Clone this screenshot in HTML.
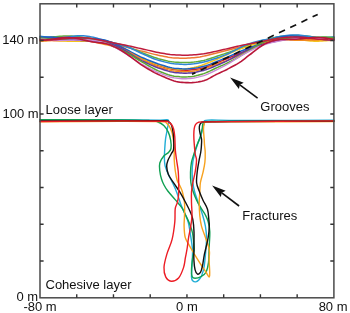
<!DOCTYPE html><html><head><meta charset="utf-8"><style>html,body{margin:0;padding:0;background:#fff;}body{width:350px;height:313px;overflow:hidden;position:relative;}svg{position:absolute;left:0;top:0;will-change:transform;}text{font-family:"Liberation Sans",sans-serif;font-size:13px;fill:#111;}</style></head><body>
<svg width="350" height="313" viewBox="0 0 350 313">
<g fill="none" stroke-linejoin="round" stroke-linecap="round">
<path d="M40.00 40.07 L41.97 39.86 L43.95 39.61 L45.92 39.35 L47.89 39.07 L49.87 38.80 L51.84 38.55 L53.81 38.33 L55.79 38.15 L57.76 38.00 L59.73 37.89 L61.70 37.83 L63.68 37.83 L65.65 37.89 L67.62 38.01 L69.60 38.19 L71.57 38.43 L73.54 38.70 L75.52 38.99 L77.49 39.32 L79.46 39.64 L81.44 39.96 L83.41 40.24 L85.38 40.47 L87.36 40.68 L89.33 40.88 L91.30 41.07 L93.28 41.22 L95.25 41.34 L97.22 41.44 L99.19 41.55 L101.17 41.67 L103.14 41.83 L105.11 42.05 L107.09 42.37 L109.06 42.82 L111.03 43.37 L113.01 44.00 L114.98 44.70 L116.95 45.47 L118.93 46.31 L120.90 47.23 L122.87 48.22 L124.85 49.26 L126.82 50.37 L128.79 51.55 L130.77 52.77 L132.74 53.96 L134.71 55.11 L136.68 56.20 L138.66 57.26 L140.63 58.25 L142.60 59.16 L144.58 60.04 L146.55 60.90 L148.52 61.74 L150.50 62.54 L152.47 63.32 L154.44 64.06 L156.42 64.77 L158.39 65.43 L160.36 66.03 L162.34 66.63 L164.31 67.23 L166.28 67.82 L168.26 68.37 L170.23 68.86 L172.20 69.27 L174.17 69.57 L176.15 69.78 L178.12 69.96 L180.09 70.11 L182.07 70.23 L184.04 70.29 L186.01 70.29 L187.99 70.19 L189.96 70.04 L191.93 69.86 L193.91 69.64 L195.88 69.36 L197.85 69.01 L199.83 68.62 L201.80 68.18 L203.77 67.71 L205.74 67.14 L207.72 66.47 L209.69 65.76 L211.66 64.97 L213.64 64.13 L215.61 63.30 L217.58 62.50 L219.56 61.70 L221.53 60.91 L223.50 60.12 L225.48 59.31 L227.45 58.47 L229.42 57.62 L231.40 56.77 L233.37 55.94 L235.34 55.11 L237.32 54.28 L239.29 53.47 L241.26 52.67 L243.23 51.87 L245.21 51.08 L247.18 50.30 L249.15 49.53 L251.13 48.72 L253.10 47.87 L255.07 46.98 L257.05 46.06 L259.02 45.15 L260.99 44.24 L262.97 43.38 L264.94 42.52 L266.91 41.71 L268.89 40.96 L270.86 40.30 L272.83 39.69 L274.81 39.15 L276.78 38.69 L278.75 38.34 L280.72 38.10 L282.70 37.94 L284.67 37.86 L286.64 37.86 L288.62 37.95 L290.59 38.12 L292.56 38.34 L294.54 38.56 L296.51 38.77 L298.48 38.98 L300.46 39.16 L302.43 39.31 L304.40 39.42 L306.38 39.50 L308.35 39.52 L310.32 39.50 L312.30 39.43 L314.27 39.31 L316.24 39.15 L318.21 38.97 L320.19 38.77 L322.16 38.58 L324.13 38.41 L326.11 38.26 L328.08 38.15 L330.05 38.09 L332.03 38.07 L334.00 38.12" stroke="#d8202a" stroke-width="1.50"/>
<path d="M40.00 39.48 L41.97 39.67 L43.95 39.86 L45.92 40.06 L47.89 40.24 L49.87 40.41 L51.84 40.55 L53.81 40.67 L55.79 40.74 L57.76 40.77 L59.73 40.73 L61.70 40.65 L63.68 40.53 L65.65 40.38 L67.62 40.21 L69.60 40.03 L71.57 39.85 L73.54 39.67 L75.52 39.50 L77.49 39.35 L79.46 39.23 L81.44 39.14 L83.41 39.07 L85.38 39.03 L87.36 39.05 L89.33 39.14 L91.30 39.29 L93.28 39.50 L95.25 39.75 L97.22 40.04 L99.19 40.37 L101.17 40.75 L103.14 41.16 L105.11 41.61 L107.09 42.11 L109.06 42.65 L111.03 43.21 L113.01 43.77 L114.98 44.31 L116.95 44.83 L118.93 45.34 L120.90 45.84 L122.87 46.33 L124.85 46.81 L126.82 47.30 L128.79 47.81 L130.77 48.34 L132.74 48.86 L134.71 49.37 L136.68 49.87 L138.66 50.38 L140.63 50.87 L142.60 51.34 L144.58 51.84 L146.55 52.34 L148.52 52.86 L150.50 53.37 L152.47 53.88 L154.44 54.38 L156.42 54.85 L158.39 55.30 L160.36 55.70 L162.34 56.10 L164.31 56.48 L166.28 56.85 L168.26 57.19 L170.23 57.48 L172.20 57.72 L174.17 57.89 L176.15 58.01 L178.12 58.11 L180.09 58.20 L182.07 58.26 L184.04 58.30 L186.01 58.20 L187.99 58.10 L189.96 57.99 L191.93 57.84 L193.91 57.65 L195.88 57.43 L197.85 57.17 L199.83 56.89 L201.80 56.55 L203.77 56.12 L205.74 55.66 L207.72 55.19 L209.69 54.69 L211.66 54.18 L213.64 53.68 L215.61 53.19 L217.58 52.71 L219.56 52.23 L221.53 51.75 L223.50 51.26 L225.48 50.76 L227.45 50.26 L229.42 49.76 L231.40 49.26 L233.37 48.76 L235.34 48.26 L237.32 47.76 L239.29 47.27 L241.26 46.79 L243.23 46.31 L245.21 45.85 L247.18 45.38 L249.15 44.89 L251.13 44.36 L253.10 43.81 L255.07 43.25 L257.05 42.70 L259.02 42.17 L260.99 41.66 L262.97 41.17 L264.94 40.69 L266.91 40.23 L268.89 39.78 L270.86 39.33 L272.83 38.91 L274.81 38.57 L276.78 38.35 L278.75 38.24 L280.72 38.17 L282.70 38.15 L284.67 38.18 L286.64 38.25 L288.62 38.36 L290.59 38.49 L292.56 38.65 L294.54 38.84 L296.51 39.03 L298.48 39.23 L300.46 39.43 L302.43 39.63 L304.40 39.82 L306.38 39.99 L308.35 40.13 L310.32 40.23 L312.30 40.30 L314.27 40.32 L316.24 40.30 L318.21 40.24 L320.19 40.14 L322.16 40.03 L324.13 39.89 L326.11 39.75 L328.08 39.60 L330.05 39.45 L332.03 39.32 L334.00 39.21" stroke="#ef7a32" stroke-width="1.50"/>
<path d="M40.00 38.18 L41.97 38.00 L43.95 37.81 L45.92 37.61 L47.89 37.41 L49.87 37.20 L51.84 37.01 L53.81 36.82 L55.79 36.64 L57.76 36.47 L59.73 36.32 L61.70 36.18 L63.68 36.07 L65.65 36.00 L67.62 35.97 L69.60 35.99 L71.57 36.07 L73.54 36.19 L75.52 36.36 L77.49 36.58 L79.46 36.84 L81.44 37.13 L83.41 37.43 L85.38 37.73 L87.36 38.05 L89.33 38.41 L91.30 38.78 L93.28 39.15 L95.25 39.51 L97.22 39.85 L99.19 40.18 L101.17 40.50 L103.14 40.83 L105.11 41.15 L107.09 41.51 L109.06 41.91 L111.03 42.34 L113.01 42.78 L114.98 43.22 L116.95 43.66 L118.93 44.14 L120.90 44.65 L122.87 45.20 L124.85 45.79 L126.82 46.44 L128.79 47.18 L130.77 47.98 L132.74 48.80 L134.71 49.63 L136.68 50.45 L138.66 51.29 L140.63 52.11 L142.60 52.89 L144.58 53.68 L146.55 54.47 L148.52 55.25 L150.50 56.01 L152.47 56.74 L154.44 57.43 L156.42 58.08 L158.39 58.68 L160.36 59.22 L162.34 59.73 L164.31 60.23 L166.28 60.70 L168.26 61.14 L170.23 61.52 L172.20 61.83 L174.17 62.06 L176.15 62.21 L178.12 62.34 L180.09 62.46 L182.07 62.55 L184.04 62.59 L186.01 62.59 L187.99 62.51 L189.96 62.39 L191.93 62.24 L193.91 62.07 L195.88 61.83 L197.85 61.54 L199.83 61.20 L201.80 60.83 L203.77 60.42 L205.74 59.89 L207.72 59.28 L209.69 58.67 L211.66 58.02 L213.64 57.36 L215.61 56.69 L217.58 56.05 L219.56 55.41 L221.53 54.78 L223.50 54.14 L225.48 53.49 L227.45 52.80 L229.42 52.09 L231.40 51.38 L233.37 50.66 L235.34 49.92 L237.32 49.17 L239.29 48.42 L241.26 47.68 L243.23 46.95 L245.21 46.25 L247.18 45.58 L249.15 44.94 L251.13 44.30 L253.10 43.63 L255.07 42.96 L257.05 42.30 L259.02 41.66 L260.99 41.07 L262.97 40.53 L264.94 40.02 L266.91 39.54 L268.89 39.06 L270.86 38.59 L272.83 38.09 L274.81 37.57 L276.78 37.10 L278.75 36.72 L280.72 36.47 L282.70 36.26 L284.67 36.08 L286.64 35.93 L288.62 35.79 L290.59 35.69 L292.56 35.61 L294.54 35.57 L296.51 35.56 L298.48 35.59 L300.46 35.66 L302.43 35.77 L304.40 35.91 L306.38 36.09 L308.35 36.29 L310.32 36.51 L312.30 36.74 L314.27 36.97 L316.24 37.19 L318.21 37.42 L320.19 37.63 L322.16 37.83 L324.13 38.02 L326.11 38.19 L328.08 38.34 L330.05 38.46 L332.03 38.55 L334.00 38.62" stroke="#62ad3c" stroke-width="1.50"/>
<path d="M40.00 39.68 L41.97 39.63 L43.95 39.63 L45.92 39.67 L47.89 39.75 L49.87 39.87 L51.84 40.01 L53.81 40.18 L55.79 40.36 L57.76 40.53 L59.73 40.69 L61.70 40.83 L63.68 40.95 L65.65 41.05 L67.62 41.14 L69.60 41.20 L71.57 41.25 L73.54 41.27 L75.52 41.27 L77.49 41.26 L79.46 41.23 L81.44 41.19 L83.41 41.14 L85.38 41.06 L87.36 41.01 L89.33 41.01 L91.30 41.05 L93.28 41.13 L95.25 41.24 L97.22 41.40 L99.19 41.62 L101.17 41.91 L103.14 42.27 L105.11 42.71 L107.09 43.27 L109.06 43.94 L111.03 44.69 L113.01 45.49 L114.98 46.32 L116.95 47.16 L118.93 48.04 L120.90 48.94 L122.87 49.85 L124.85 50.77 L126.82 51.72 L128.79 52.71 L130.77 53.71 L132.74 54.69 L134.71 55.63 L136.68 56.52 L138.66 57.40 L140.63 58.23 L142.60 59.00 L144.58 59.77 L146.55 60.55 L148.52 61.32 L150.50 62.08 L152.47 62.82 L154.44 63.54 L156.42 64.22 L158.39 64.87 L160.36 65.46 L162.34 66.05 L164.31 66.63 L166.28 67.19 L168.26 67.71 L170.23 68.17 L172.20 68.55 L174.17 68.84 L176.15 69.03 L178.12 69.19 L180.09 69.33 L182.07 69.44 L184.04 69.49 L186.01 68.88 L187.99 68.61 L189.96 68.30 L191.93 67.94 L193.91 67.54 L195.88 67.09 L197.85 66.52 L199.83 65.87 L201.80 65.20 L203.77 64.48 L205.74 63.73 L207.72 62.97 L209.69 62.22 L211.66 61.45 L213.64 60.67 L215.61 59.87 L217.58 59.04 L219.56 58.17 L221.53 57.26 L223.50 56.34 L225.48 55.42 L227.45 54.48 L229.42 53.54 L231.40 52.62 L233.37 51.72 L235.34 50.87 L237.32 50.07 L239.29 49.32 L241.26 48.63 L243.23 47.96 L245.21 47.28 L247.18 46.62 L249.15 45.97 L251.13 45.36 L253.10 44.79 L255.07 44.27 L257.05 43.77 L259.02 43.27 L260.99 42.77 L262.97 42.25 L264.94 41.68 L266.91 41.10 L268.89 40.56 L270.86 40.13 L272.83 39.83 L274.81 39.58 L276.78 39.35 L278.75 39.16 L280.72 39.01 L282.70 38.91 L284.67 38.86 L286.64 38.86 L288.62 38.91 L290.59 39.00 L292.56 39.13 L294.54 39.29 L296.51 39.48 L298.48 39.69 L300.46 39.91 L302.43 40.14 L304.40 40.37 L306.38 40.59 L308.35 40.78 L310.32 40.94 L312.30 41.06 L314.27 41.13 L316.24 41.15 L318.21 41.14 L320.19 41.08 L322.16 40.98 L324.13 40.86 L326.11 40.72 L328.08 40.57 L330.05 40.41 L332.03 40.26 L334.00 40.13" stroke="#f5c21b" stroke-width="1.50"/>
<path d="M40.00 36.28 L41.97 36.49 L43.95 36.72 L45.92 36.95 L47.89 37.18 L49.87 37.40 L51.84 37.58 L53.81 37.71 L55.79 37.79 L57.76 37.80 L59.73 37.74 L61.70 37.61 L63.68 37.42 L65.65 37.19 L67.62 36.93 L69.60 36.67 L71.57 36.42 L73.54 36.18 L75.52 35.98 L77.49 35.84 L79.46 35.77 L81.44 35.77 L83.41 35.83 L85.38 35.95 L87.36 36.16 L89.33 36.48 L91.30 36.88 L93.28 37.34 L95.25 37.83 L97.22 38.35 L99.19 38.88 L101.17 39.43 L103.14 39.97 L105.11 40.52 L107.09 41.08 L109.06 41.66 L111.03 42.23 L113.01 42.79 L114.98 43.31 L116.95 43.81 L118.93 44.32 L120.90 44.84 L122.87 45.40 L124.85 46.00 L126.82 46.68 L128.79 47.45 L130.77 48.31 L132.74 49.21 L134.71 50.12 L136.68 51.05 L138.66 52.01 L140.63 52.95 L142.60 53.85 L144.58 54.76 L146.55 55.67 L148.52 56.55 L150.50 57.40 L152.47 58.21 L154.44 58.96 L156.42 59.65 L158.39 60.27 L160.36 60.83 L162.34 61.36 L164.31 61.87 L166.28 62.36 L168.26 62.81 L170.23 63.20 L172.20 63.53 L174.17 63.78 L176.15 63.95 L178.12 64.10 L180.09 64.24 L182.07 64.34 L184.04 64.39 L186.01 64.39 L187.99 64.30 L189.96 64.15 L191.93 63.98 L193.91 63.78 L195.88 63.52 L197.85 63.20 L199.83 62.85 L201.80 62.47 L203.77 62.06 L205.74 61.53 L207.72 60.94 L209.69 60.35 L211.66 59.73 L213.64 59.08 L215.61 58.43 L217.58 57.78 L219.56 57.11 L221.53 56.41 L223.50 55.67 L225.48 54.88 L227.45 54.03 L229.42 53.12 L231.40 52.16 L233.37 51.18 L235.34 50.17 L237.32 49.14 L239.29 48.11 L241.26 47.12 L243.23 46.17 L245.21 45.29 L247.18 44.48 L249.15 43.78 L251.13 43.12 L253.10 42.49 L255.07 41.90 L257.05 41.36 L259.02 40.87 L260.99 40.45 L262.97 40.09 L264.94 39.74 L266.91 39.40 L268.89 39.04 L270.86 38.64 L272.83 38.15 L274.81 37.62 L276.78 37.10 L278.75 36.64 L280.72 36.29 L282.70 35.98 L284.67 35.70 L286.64 35.44 L288.62 35.23 L290.59 35.06 L292.56 34.96 L294.54 34.92 L296.51 34.95 L298.48 35.05 L300.46 35.21 L302.43 35.42 L304.40 35.69 L306.38 35.98 L308.35 36.29 L310.32 36.59 L312.30 36.87 L314.27 37.11 L316.24 37.30 L318.21 37.44 L320.19 37.52 L322.16 37.54 L324.13 37.50 L326.11 37.42 L328.08 37.29 L330.05 37.13 L332.03 36.95 L334.00 36.76" stroke="#2e86d6" stroke-width="1.50"/>
<path d="M40.00 37.01 L41.97 36.93 L43.95 36.89 L45.92 36.89 L47.89 36.93 L49.87 37.01 L51.84 37.12 L53.81 37.26 L55.79 37.43 L57.76 37.59 L59.73 37.75 L61.70 37.90 L63.68 38.04 L65.65 38.17 L67.62 38.28 L69.60 38.39 L71.57 38.48 L73.54 38.55 L75.52 38.59 L77.49 38.63 L79.46 38.65 L81.44 38.65 L83.41 38.63 L85.38 38.58 L87.36 38.55 L89.33 38.56 L91.30 38.61 L93.28 38.69 L95.25 38.79 L97.22 38.93 L99.19 39.13 L101.17 39.40 L103.14 39.74 L105.11 40.17 L107.09 40.71 L109.06 41.38 L111.03 42.14 L113.01 42.96 L114.98 43.82 L116.95 44.70 L118.93 45.63 L120.90 46.59 L122.87 47.58 L124.85 48.59 L126.82 49.63 L128.79 50.73 L130.77 51.84 L132.74 52.92 L134.71 53.96 L136.68 54.95 L138.66 55.92 L140.63 56.84 L142.60 57.69 L144.58 58.53 L146.55 59.37 L148.52 60.19 L150.50 61.01 L152.47 61.80 L154.44 62.56 L156.42 63.28 L158.39 63.96 L160.36 64.59 L162.34 65.21 L164.31 65.82 L166.28 66.42 L168.26 66.98 L170.23 67.47 L172.20 67.88 L174.17 68.18 L176.15 68.38 L178.12 68.56 L180.09 68.72 L182.07 68.83 L184.04 68.89 L186.01 68.89 L187.99 68.79 L189.96 68.64 L191.93 68.46 L193.91 68.25 L195.88 67.96 L197.85 67.62 L199.83 67.22 L201.80 66.79 L203.77 66.32 L205.74 65.75 L207.72 65.09 L209.69 64.39 L211.66 63.60 L213.64 62.77 L215.61 61.95 L217.58 61.16 L219.56 60.37 L221.53 59.57 L223.50 58.77 L225.48 57.94 L227.45 57.09 L229.42 56.20 L231.40 55.32 L233.37 54.45 L235.34 53.58 L237.32 52.72 L239.29 51.88 L241.26 51.05 L243.23 50.24 L245.21 49.46 L247.18 48.71 L249.15 47.97 L251.13 47.24 L253.10 46.47 L255.07 45.69 L257.05 44.89 L259.02 44.10 L260.99 43.33 L262.97 42.59 L264.94 41.84 L266.91 41.11 L268.89 40.41 L270.86 39.77 L272.83 39.14 L274.81 38.53 L276.78 37.97 L278.75 37.48 L280.72 37.07 L282.70 36.71 L284.67 36.41 L286.64 36.20 L288.62 36.08 L290.59 36.06 L292.56 36.11 L294.54 36.21 L296.51 36.34 L298.48 36.52 L300.46 36.72 L302.43 36.95 L304.40 37.20 L306.38 37.46 L308.35 37.71 L310.32 37.94 L312.30 38.14 L314.27 38.31 L316.24 38.42 L318.21 38.50 L320.19 38.54 L322.16 38.53 L324.13 38.49 L326.11 38.41 L328.08 38.30 L330.05 38.17 L332.03 38.03 L334.00 37.88" stroke="#1a62c4" stroke-width="1.50"/>
<path d="M40.00 41.30 L41.97 41.22 L43.95 41.10 L45.92 40.95 L47.89 40.76 L49.87 40.55 L51.84 40.32 L53.81 40.08 L55.79 39.84 L57.76 39.58 L59.73 39.33 L61.70 39.09 L63.68 38.88 L65.65 38.71 L67.62 38.59 L69.60 38.53 L71.57 38.54 L73.54 38.61 L75.52 38.73 L77.49 38.93 L79.46 39.19 L81.44 39.49 L83.41 39.83 L85.38 40.17 L87.36 40.56 L89.33 40.99 L91.30 41.45 L93.28 41.91 L95.25 42.35 L97.22 42.77 L99.19 43.19 L101.17 43.59 L103.14 43.99 L105.11 44.40 L107.09 44.85 L109.06 45.34 L111.03 45.88 L113.01 46.43 L114.98 46.98 L116.95 47.55 L118.93 48.16 L120.90 48.82 L122.87 49.53 L124.85 50.30 L126.82 51.17 L128.79 52.14 L130.77 53.19 L132.74 54.27 L134.71 55.36 L136.68 56.44 L138.66 57.54 L140.63 58.61 L142.60 59.62 L144.58 60.64 L146.55 61.65 L148.52 62.64 L150.50 63.59 L152.47 64.50 L154.44 65.36 L156.42 66.16 L158.39 66.89 L160.36 67.54 L162.34 68.16 L164.31 68.77 L166.28 69.34 L168.26 69.87 L170.23 70.34 L172.20 70.72 L174.17 71.01 L176.15 71.20 L178.12 71.37 L180.09 71.52 L182.07 71.63 L184.04 71.69 L186.01 71.69 L187.99 71.59 L189.96 71.42 L191.93 71.23 L193.91 70.99 L195.88 70.68 L197.85 70.30 L199.83 69.87 L201.80 69.40 L203.77 68.91 L205.74 68.31 L207.72 67.64 L209.69 66.95 L211.66 66.19 L213.64 65.41 L215.61 64.66 L217.58 63.95 L219.56 63.26 L221.53 62.57 L223.50 61.88 L225.48 61.15 L227.45 60.39 L229.42 59.57 L231.40 58.73 L233.37 57.87 L235.34 56.97 L237.32 56.04 L239.29 55.07 L241.26 54.08 L243.23 53.07 L245.21 52.05 L247.18 51.02 L249.15 50.01 L251.13 48.98 L253.10 47.93 L255.07 46.89 L257.05 45.87 L259.02 44.90 L260.99 44.00 L262.97 43.20 L264.94 42.47 L266.91 41.82 L268.89 41.28 L270.86 40.85 L272.83 40.49 L274.81 40.19 L276.78 39.96 L278.75 39.82 L280.72 39.76 L282.70 39.73 L284.67 39.73 L286.64 39.77 L288.62 39.85 L290.59 39.98 L292.56 40.10 L294.54 40.20 L296.51 40.27 L298.48 40.31 L300.46 40.33 L302.43 40.32 L304.40 40.29 L306.38 40.23 L308.35 40.15 L310.32 40.05 L312.30 39.92 L314.27 39.78 L316.24 39.62 L318.21 39.47 L320.19 39.32 L322.16 39.19 L324.13 39.08 L326.11 39.00 L328.08 38.95 L330.05 38.94 L332.03 38.96 L334.00 39.03" stroke="#f28a1e" stroke-width="1.50"/>
<path d="M40.00 38.72 L41.97 38.59 L43.95 38.49 L45.92 38.43 L47.89 38.40 L49.87 38.41 L51.84 38.46 L53.81 38.54 L55.79 38.65 L57.76 38.77 L59.73 38.90 L61.70 39.04 L63.68 39.18 L65.65 39.32 L67.62 39.48 L69.60 39.64 L71.57 39.80 L73.54 39.95 L75.52 40.09 L77.49 40.23 L79.46 40.36 L81.44 40.47 L83.41 40.56 L85.38 40.60 L87.36 40.66 L89.33 40.74 L91.30 40.84 L93.28 40.94 L95.25 41.05 L97.22 41.18 L99.19 41.35 L101.17 41.56 L103.14 41.83 L105.11 42.18 L107.09 42.65 L109.06 43.25 L111.03 43.94 L113.01 44.72 L114.98 45.54 L116.95 46.42 L118.93 47.35 L120.90 48.35 L122.87 49.41 L124.85 50.51 L126.82 51.67 L128.79 52.92 L130.77 54.19 L132.74 55.46 L134.71 56.68 L136.68 57.85 L138.66 58.99 L140.63 60.07 L142.60 61.06 L144.58 62.04 L146.55 62.99 L148.52 63.92 L150.50 64.82 L152.47 65.68 L154.44 66.50 L156.42 67.27 L158.39 67.98 L160.36 68.64 L162.34 69.28 L164.31 69.92 L166.28 70.54 L168.26 71.13 L170.23 71.65 L172.20 72.08 L174.17 72.41 L176.15 72.63 L178.12 72.83 L180.09 73.00 L182.07 73.12 L184.04 73.19 L186.01 73.18 L187.99 73.08 L189.96 72.90 L191.93 72.71 L193.91 72.47 L195.88 72.15 L197.85 71.77 L199.83 71.35 L201.80 70.89 L203.77 70.40 L205.74 69.81 L207.72 69.13 L209.69 68.41 L211.66 67.61 L213.64 66.76 L215.61 65.93 L217.58 65.10 L219.56 64.28 L221.53 63.43 L223.50 62.56 L225.48 61.64 L227.45 60.66 L229.42 59.63 L231.40 58.58 L233.37 57.51 L235.34 56.43 L237.32 55.34 L239.29 54.26 L241.26 53.20 L243.23 52.17 L245.21 51.18 L247.18 50.24 L249.15 49.36 L251.13 48.52 L253.10 47.70 L255.07 46.90 L257.05 46.15 L259.02 45.45 L260.99 44.81 L262.97 44.25 L264.94 43.71 L266.91 43.20 L268.89 42.74 L270.86 42.33 L272.83 41.91 L274.81 41.47 L276.78 41.05 L278.75 40.64 L280.72 40.25 L282.70 39.86 L284.67 39.47 L286.64 39.10 L288.62 38.77 L290.59 38.51 L292.56 38.27 L294.54 38.05 L296.51 37.86 L298.48 37.70 L300.46 37.59 L302.43 37.53 L304.40 37.52 L306.38 37.57 L308.35 37.66 L310.32 37.80 L312.30 37.97 L314.27 38.17 L316.24 38.40 L318.21 38.64 L320.19 38.90 L322.16 39.17 L324.13 39.44 L326.11 39.70 L328.08 39.94 L330.05 40.17 L332.03 40.36 L334.00 40.52" stroke="#5e3a9e" stroke-width="1.50"/>
<path d="M40.00 38.08 L41.97 38.28 L43.95 38.49 L45.92 38.69 L47.89 38.88 L49.87 39.06 L51.84 39.20 L53.81 39.30 L55.79 39.36 L57.76 39.36 L59.73 39.30 L61.70 39.19 L63.68 39.03 L65.65 38.84 L67.62 38.63 L69.60 38.42 L71.57 38.21 L73.54 38.01 L75.52 37.83 L77.49 37.70 L79.46 37.63 L81.44 37.61 L83.41 37.64 L85.38 37.71 L87.36 37.88 L89.33 38.15 L91.30 38.51 L93.28 38.94 L95.25 39.42 L97.22 39.95 L99.19 40.54 L101.17 41.17 L103.14 41.86 L105.11 42.60 L107.09 43.41 L109.06 44.30 L111.03 45.24 L113.01 46.19 L114.98 47.12 L116.95 48.03 L118.93 48.95 L120.90 49.89 L122.87 50.85 L124.85 51.83 L126.82 52.87 L128.79 54.01 L130.77 55.20 L132.74 56.41 L134.71 57.60 L136.68 58.79 L138.66 60.00 L140.63 61.17 L142.60 62.29 L144.58 63.44 L146.55 64.59 L148.52 65.74 L150.50 66.87 L152.47 67.97 L154.44 69.02 L156.42 70.01 L158.39 70.92 L160.36 71.74 L162.34 72.53 L164.31 73.31 L166.28 74.04 L168.26 74.72 L170.23 75.30 L172.20 75.79 L174.17 76.15 L176.15 76.39 L178.12 76.60 L180.09 76.78 L182.07 76.91 L184.04 76.99 L186.01 76.98 L187.99 76.86 L189.96 76.67 L191.93 76.44 L193.91 76.15 L195.88 75.77 L197.85 75.32 L199.83 74.79 L201.80 74.22 L203.77 73.61 L205.74 72.88 L207.72 72.04 L209.69 71.17 L211.66 70.22 L213.64 69.24 L215.61 68.30 L217.58 67.40 L219.56 66.54 L221.53 65.68 L223.50 64.82 L225.48 63.93 L227.45 62.99 L229.42 62.00 L231.40 60.98 L233.37 59.95 L235.34 58.87 L237.32 57.76 L239.29 56.61 L241.26 55.43 L243.23 54.23 L245.21 53.01 L247.18 51.79 L249.15 50.58 L251.13 49.36 L253.10 48.10 L255.07 46.85 L257.05 45.63 L259.02 44.46 L260.99 43.39 L262.97 42.43 L264.94 41.56 L266.91 40.78 L268.89 40.13 L270.86 39.63 L272.83 39.21 L274.81 38.86 L276.78 38.60 L278.75 38.43 L280.72 38.35 L282.70 38.31 L284.67 38.30 L286.64 38.32 L288.62 38.38 L290.59 38.49 L292.56 38.58 L294.54 38.64 L296.51 38.65 L298.48 38.63 L300.46 38.57 L302.43 38.48 L304.40 38.37 L306.38 38.23 L308.35 38.08 L310.32 37.91 L312.30 37.73 L314.27 37.56 L316.24 37.39 L318.21 37.25 L320.19 37.14 L322.16 37.07 L324.13 37.04 L326.11 37.06 L328.08 37.13 L330.05 37.26 L332.03 37.43 L334.00 37.64" stroke="#5aa832" stroke-width="1.50"/>
<path d="M40.00 39.00 L41.97 39.12 L43.95 39.26 L45.92 39.42 L47.89 39.58 L49.87 39.75 L51.84 39.91 L53.81 40.07 L55.79 40.21 L57.76 40.31 L59.73 40.38 L61.70 40.41 L63.68 40.42 L65.65 40.40 L67.62 40.36 L69.60 40.31 L71.57 40.25 L73.54 40.18 L75.52 40.10 L77.49 40.05 L79.46 40.01 L81.44 39.98 L83.41 39.95 L85.38 39.93 L87.36 39.96 L89.33 40.05 L91.30 40.22 L93.28 40.43 L95.25 40.67 L97.22 40.97 L99.19 41.33 L101.17 41.75 L103.14 42.26 L105.11 42.85 L107.09 43.57 L109.06 44.41 L111.03 45.36 L113.01 46.36 L114.98 47.39 L116.95 48.45 L118.93 49.55 L120.90 50.70 L122.87 51.88 L124.85 53.09 L126.82 54.36 L128.79 55.71 L130.77 57.09 L132.74 58.46 L134.71 59.78 L136.68 61.05 L138.66 62.30 L140.63 63.49 L142.60 64.59 L144.58 65.69 L146.55 66.78 L148.52 67.85 L150.50 68.90 L152.47 69.91 L154.44 70.88 L156.42 71.79 L158.39 72.65 L160.36 73.43 L162.34 74.19 L164.31 74.96 L166.28 75.70 L168.26 76.39 L170.23 77.00 L172.20 77.51 L174.17 77.89 L176.15 78.14 L178.12 78.37 L180.09 78.57 L182.07 78.71 L184.04 78.79 L186.01 78.78 L187.99 78.66 L189.96 78.46 L191.93 78.23 L193.91 77.96 L195.88 77.59 L197.85 77.15 L199.83 76.66 L201.80 76.12 L203.77 75.55 L205.74 74.85 L207.72 74.05 L209.69 73.21 L211.66 72.27 L213.64 71.28 L215.61 70.30 L217.58 69.34 L219.56 68.38 L221.53 67.41 L223.50 66.40 L225.48 65.35 L227.45 64.24 L229.42 63.07 L231.40 61.87 L233.37 60.66 L235.34 59.43 L237.32 58.19 L239.29 56.95 L241.26 55.73 L243.23 54.54 L245.21 53.39 L247.18 52.29 L249.15 51.26 L251.13 50.26 L253.10 49.27 L255.07 48.32 L257.05 47.41 L259.02 46.56 L260.99 45.80 L262.97 45.12 L264.94 44.48 L266.91 43.88 L268.89 43.35 L270.86 42.89 L272.83 42.43 L274.81 41.98 L276.78 41.54 L278.75 41.13 L280.72 40.76 L282.70 40.38 L284.67 40.00 L286.64 39.65 L288.62 39.33 L290.59 39.08 L292.56 38.85 L294.54 38.63 L296.51 38.42 L298.48 38.24 L300.46 38.08 L302.43 37.96 L304.40 37.89 L306.38 37.86 L308.35 37.87 L310.32 37.92 L312.30 38.01 L314.27 38.13 L316.24 38.28 L318.21 38.46 L320.19 38.67 L322.16 38.90 L324.13 39.15 L326.11 39.40 L328.08 39.67 L330.05 39.93 L332.03 40.18 L334.00 40.42" stroke="#c98ad6" stroke-width="1.40"/>
<path d="M40.00 39.83 L41.97 39.94 L43.95 40.02 L45.92 40.07 L47.89 40.07 L49.87 40.04 L51.84 39.97 L53.81 39.87 L55.79 39.73 L57.76 39.55 L59.73 39.33 L61.70 39.09 L63.68 38.84 L65.65 38.58 L67.62 38.34 L69.60 38.13 L71.57 37.96 L73.54 37.82 L75.52 37.72 L77.49 37.67 L79.46 37.66 L81.44 37.71 L83.41 37.79 L85.38 37.90 L87.36 38.06 L89.33 38.29 L91.30 38.56 L93.28 38.87 L95.25 39.19 L97.22 39.54 L99.19 39.90 L101.17 40.27 L103.14 40.66 L105.11 41.06 L107.09 41.47 L109.06 41.91 L111.03 42.35 L113.01 42.78 L114.98 43.19 L116.95 43.58 L118.93 43.96 L120.90 44.34 L122.87 44.71 L124.85 45.08 L126.82 45.47 L128.79 45.89 L130.77 46.32 L132.74 46.77 L134.71 47.21 L136.68 47.65 L138.66 48.11 L140.63 48.55 L142.60 48.99 L144.58 49.43 L146.55 49.89 L148.52 50.36 L150.50 50.82 L152.47 51.28 L154.44 51.73 L156.42 52.15 L158.39 52.54 L160.36 52.90 L162.34 53.25 L164.31 53.60 L166.28 53.92 L168.26 54.22 L170.23 54.48 L172.20 54.69 L174.17 54.84 L176.15 54.95 L178.12 55.03 L180.09 55.11 L182.07 55.17 L184.04 55.20 L186.01 55.19 L187.99 55.15 L189.96 55.07 L191.93 54.98 L193.91 54.87 L195.88 54.72 L197.85 54.55 L199.83 54.34 L201.80 54.10 L203.77 53.84 L205.74 53.49 L207.72 53.10 L209.69 52.69 L211.66 52.26 L213.64 51.81 L215.61 51.36 L217.58 50.91 L219.56 50.47 L221.53 50.03 L223.50 49.59 L225.48 49.14 L227.45 48.68 L229.42 48.21 L231.40 47.73 L233.37 47.27 L235.34 46.80 L237.32 46.34 L239.29 45.88 L241.26 45.44 L243.23 45.02 L245.21 44.62 L247.18 44.24 L249.15 43.89 L251.13 43.53 L253.10 43.15 L255.07 42.76 L257.05 42.36 L259.02 41.96 L260.99 41.57 L262.97 41.20 L264.94 40.83 L266.91 40.47 L268.89 40.10 L270.86 39.72 L272.83 39.30 L274.81 38.87 L276.78 38.47 L278.75 38.12 L280.72 37.87 L282.70 37.65 L284.67 37.46 L286.64 37.31 L288.62 37.18 L290.59 37.08 L292.56 37.03 L294.54 37.01 L296.51 37.03 L298.48 37.09 L300.46 37.20 L302.43 37.34 L304.40 37.53 L306.38 37.74 L308.35 37.97 L310.32 38.22 L312.30 38.47 L314.27 38.71 L316.24 38.94 L318.21 39.15 L320.19 39.34 L322.16 39.51 L324.13 39.65 L326.11 39.76 L328.08 39.85 L330.05 39.89 L332.03 39.91 L334.00 39.90" stroke="#bf1c3c" stroke-width="1.50"/>
<path d="M40.00 40.28 L41.97 40.26 L43.95 40.18 L45.92 40.02 L47.89 39.81 L49.87 39.56 L51.84 39.27 L53.81 38.97 L55.79 38.67 L57.76 38.37 L59.73 38.09 L61.70 37.85 L63.68 37.67 L65.65 37.56 L67.62 37.53 L69.60 37.59 L71.57 37.74 L73.54 37.96 L75.52 38.24 L77.49 38.62 L79.46 39.06 L81.44 39.51 L83.41 39.96 L85.38 40.38 L87.36 40.79 L89.33 41.21 L91.30 41.60 L93.28 41.96 L95.25 42.25 L97.22 42.49 L99.19 42.70 L101.17 42.91 L103.14 43.15 L105.11 43.46 L107.09 43.92 L109.06 44.55 L111.03 45.31 L113.01 46.18 L114.98 47.10 L116.95 48.06 L118.93 49.11 L120.90 50.24 L122.87 51.46 L124.85 52.74 L126.82 54.09 L128.79 55.52 L130.77 56.98 L132.74 58.45 L134.71 59.91 L136.68 61.39 L138.66 62.89 L140.63 64.30 L142.60 65.59 L144.58 66.84 L146.55 68.07 L148.52 69.26 L150.50 70.42 L152.47 71.53 L154.44 72.59 L156.42 73.59 L158.39 74.52 L160.36 75.37 L162.34 76.21 L164.31 77.07 L166.28 77.92 L168.26 78.76 L170.23 79.55 L172.20 80.27 L174.17 80.92 L176.15 81.46 L178.12 81.89 L180.09 82.18 L182.07 82.35 L184.04 82.49 L186.01 82.60 L187.99 82.67 L189.96 82.70 L191.93 82.65 L193.91 82.50 L195.88 82.27 L197.85 81.97 L199.83 81.62 L201.80 81.23 L203.77 80.79 L205.74 80.10 L207.72 79.17 L209.69 78.10 L211.66 76.96 L213.64 75.85 L215.61 74.84 L217.58 73.90 L219.56 72.98 L221.53 72.06 L223.50 71.14 L225.48 70.18 L227.45 69.17 L229.42 68.09 L231.40 67.00 L233.37 65.97 L235.34 64.96 L237.32 63.90 L239.29 62.69 L241.26 61.32 L243.23 59.84 L245.21 58.30 L247.18 56.74 L249.15 55.21 L251.13 53.75 L253.10 52.24 L255.07 50.69 L257.05 49.16 L259.02 47.66 L260.99 46.26 L262.97 44.98 L264.94 43.88 L266.91 42.97 L268.89 42.16 L270.86 41.46 L272.83 40.85 L274.81 40.36 L276.78 39.97 L278.75 39.70 L280.72 39.54 L282.70 39.48 L284.67 39.44 L286.64 39.41 L288.62 39.37 L290.59 39.35 L292.56 39.35 L294.54 39.32 L296.51 39.22 L298.48 39.07 L300.46 38.89 L302.43 38.67 L304.40 38.44 L306.38 38.21 L308.35 37.99 L310.32 37.80 L312.30 37.64 L314.27 37.53 L316.24 37.47 L318.21 37.47 L320.19 37.55 L322.16 37.69 L324.13 37.90 L326.11 38.16 L328.08 38.46 L330.05 38.79 L332.03 39.13 L334.00 39.47" stroke="#b8173a" stroke-width="1.60"/>
</g>
<path d="M192 74.3 L317.7 14.4" stroke="#111" stroke-width="1.7" stroke-dasharray="6.6 5.8" stroke-dashoffset="2.8" fill="none"/>
<g fill="none" stroke-linejoin="round" stroke-linecap="round">
<path d="M40.00 119.70 C53.33 119.72 100.00 119.73 120.00 119.80 C140.00 119.87 151.93 120.02 160.00 120.10 C168.07 120.18 167.18 118.82 168.40 120.30 C169.62 121.78 167.78 125.83 167.30 129.00 C166.82 132.17 165.93 135.85 165.50 139.30 C165.07 142.75 164.88 146.72 164.70 149.70 C164.52 152.68 164.35 154.60 164.40 157.20 C164.45 159.80 164.33 162.42 165.00 165.30 C165.67 168.18 167.07 171.43 168.40 174.50 C169.73 177.57 171.62 180.75 173.00 183.70 C174.38 186.65 175.43 188.87 176.70 192.20 C177.97 195.53 179.32 200.28 180.60 203.70 C181.88 207.12 183.13 209.65 184.40 212.70 C185.67 215.75 187.18 218.28 188.20 222.00 C189.22 225.72 189.78 230.33 190.50 235.00 C191.22 239.67 192.25 245.00 192.50 250.00 C192.75 255.00 192.17 260.48 192.00 265.00 C191.83 269.52 191.38 274.48 191.50 277.10 C191.62 279.72 192.00 279.90 192.70 280.70 C193.40 281.50 194.68 282.00 195.70 281.90 C196.72 281.80 197.78 281.20 198.80 280.10 C199.82 279.00 200.90 277.62 201.80 275.30 C202.70 272.98 203.50 270.75 204.20 266.20 C204.90 261.65 205.62 252.80 206.00 248.00 C206.38 243.20 206.60 241.03 206.50 237.40 C206.40 233.77 206.05 229.93 205.40 226.20 C204.75 222.47 203.63 218.48 202.60 215.00 C201.57 211.52 200.52 209.13 199.20 205.30 C197.88 201.47 195.77 195.77 194.70 192.00 C193.63 188.23 193.23 185.97 192.80 182.70 C192.37 179.43 192.10 175.82 192.10 172.40 C192.10 168.98 192.30 165.60 192.80 162.20 C193.30 158.80 194.27 155.13 195.10 152.00 C195.93 148.87 196.72 146.53 197.80 143.40 C198.88 140.27 200.53 136.60 201.60 133.20 C202.67 129.80 203.13 125.18 204.20 123.00 C205.27 120.82 202.03 120.52 208.00 120.10 C213.97 119.68 219.00 120.47 240.00 120.50 C261.00 120.53 318.33 120.33 334.00 120.30" stroke="#22aed6" stroke-width="1.4"/>
<path d="M40.00 119.80 C53.33 119.82 101.67 119.77 120.00 119.90 C138.33 120.03 143.85 120.33 150.00 120.60 C156.15 120.87 154.60 120.68 156.90 121.50 C159.20 122.32 161.88 123.68 163.80 125.50 C165.72 127.32 167.25 129.90 168.40 132.40 C169.55 134.90 170.27 137.82 170.70 140.50 C171.13 143.18 171.37 146.50 171.00 148.50 C170.63 150.50 169.70 151.25 168.50 152.50 C167.30 153.75 165.25 154.25 163.80 156.00 C162.35 157.75 160.47 160.50 159.80 163.00 C159.13 165.50 159.52 168.33 159.80 171.00 C160.08 173.67 160.80 176.67 161.50 179.00 C162.20 181.33 162.95 183.00 164.00 185.00 C165.05 187.00 165.90 188.52 167.80 191.00 C169.70 193.48 173.07 197.13 175.40 199.90 C177.73 202.67 180.08 205.05 181.80 207.60 C183.52 210.15 184.38 212.47 185.70 215.20 C187.02 217.93 188.57 221.05 189.70 224.00 C190.83 226.95 191.85 229.93 192.50 232.90 C193.15 235.87 193.32 238.95 193.60 241.80 C193.88 244.65 194.35 247.35 194.20 250.00 C194.05 252.65 193.15 254.40 192.70 257.70 C192.25 261.00 191.60 266.67 191.50 269.80 C191.40 272.93 191.50 275.08 192.10 276.50 C192.70 277.92 193.58 278.30 195.10 278.30 C196.62 278.30 199.38 277.52 201.20 276.50 C203.02 275.48 204.78 274.53 206.00 272.20 C207.22 269.87 207.98 266.53 208.50 262.50 C209.02 258.47 208.88 253.12 209.10 248.00 C209.32 242.88 209.95 236.18 209.80 231.80 C209.65 227.42 208.93 224.50 208.20 221.70 C207.47 218.90 206.48 217.08 205.40 215.00 C204.32 212.92 203.17 211.67 201.70 209.20 C200.23 206.73 198.12 203.40 196.60 200.20 C195.08 197.00 193.55 192.92 192.60 190.00 C191.65 187.08 191.25 185.63 190.90 182.70 C190.55 179.77 190.40 175.82 190.50 172.40 C190.60 168.98 190.93 165.27 191.50 162.20 C192.07 159.13 192.97 156.92 193.90 154.00 C194.83 151.08 196.03 147.53 197.10 144.70 C198.17 141.87 199.43 139.78 200.30 137.00 C201.17 134.22 201.87 130.20 202.30 128.00 C202.73 125.80 202.28 124.87 202.90 123.80 C203.52 122.73 201.48 122.00 206.00 121.60 C210.52 121.20 208.67 121.50 230.00 121.40 C251.33 121.30 316.67 121.07 334.00 121.00" stroke="#10a052" stroke-width="1.4"/>
<path d="M40.00 121.80 C53.33 121.72 100.00 121.33 120.00 121.30 C140.00 121.27 152.32 121.38 160.00 121.60 C167.68 121.82 164.32 121.37 166.10 122.60 C167.88 123.83 169.55 126.60 170.70 129.00 C171.85 131.40 172.42 133.55 173.00 137.00 C173.58 140.45 174.00 145.95 174.20 149.70 C174.40 153.45 174.02 155.95 174.20 159.50 C174.38 163.05 174.80 167.50 175.30 171.00 C175.80 174.50 176.42 178.00 177.20 180.50 C177.98 183.00 179.12 184.05 180.00 186.00 C180.88 187.95 181.75 189.40 182.50 192.20 C183.25 195.00 184.17 198.90 184.50 202.80 C184.83 206.70 184.57 211.70 184.50 215.60 C184.43 219.50 183.98 222.57 184.10 226.20 C184.22 229.83 184.45 234.42 185.20 237.40 C185.95 240.38 187.48 242.00 188.60 244.10 C189.72 246.20 190.82 248.13 191.90 250.00 C192.98 251.87 193.55 252.80 195.10 255.30 C196.65 257.80 199.38 262.18 201.20 265.00 C203.02 267.82 204.68 270.18 206.00 272.20 C207.32 274.22 208.48 277.10 209.10 277.10 C209.72 277.10 209.70 275.03 209.70 272.20 C209.70 269.37 209.17 263.80 209.10 260.10 C209.03 256.40 209.92 253.78 209.30 250.00 C208.68 246.22 206.70 241.37 205.40 237.40 C204.10 233.43 202.43 229.83 201.50 226.20 C200.57 222.57 200.18 219.50 199.80 215.60 C199.42 211.70 199.20 206.63 199.20 202.80 C199.20 198.97 199.60 195.95 199.80 192.60 C200.00 189.25 199.87 186.07 200.40 182.70 C200.93 179.33 202.25 175.82 203.00 172.40 C203.75 168.98 204.53 165.60 204.90 162.20 C205.27 158.80 205.27 154.87 205.20 152.00 C205.13 149.13 204.67 147.07 204.50 145.00 C204.33 142.93 204.37 142.22 204.20 139.60 C204.03 136.98 203.50 131.83 203.50 129.30 C203.50 126.77 203.62 125.60 204.20 124.40 C204.78 123.20 202.70 122.52 207.00 122.10 C211.30 121.68 208.83 122.00 230.00 121.90 C251.17 121.80 316.67 121.57 334.00 121.50" stroke="#f7a21f" stroke-width="1.4"/>
<path d="M40.00 121.00 C53.33 120.97 99.50 120.83 120.00 120.80 C140.50 120.77 154.92 120.67 163.00 120.80 C171.08 120.93 167.13 120.98 168.50 121.60 C169.87 122.22 170.52 123.18 171.20 124.50 C171.88 125.82 172.20 127.42 172.60 129.50 C173.00 131.58 173.43 133.75 173.60 137.00 C173.77 140.25 173.98 146.20 173.60 149.00 C173.22 151.80 172.27 151.85 171.30 153.80 C170.33 155.75 168.57 158.60 167.80 160.70 C167.03 162.80 166.60 164.10 166.70 166.40 C166.80 168.70 167.15 171.62 168.40 174.50 C169.65 177.38 172.28 180.75 174.20 183.70 C176.12 186.65 178.08 189.23 179.90 192.20 C181.72 195.17 183.38 198.25 185.10 201.50 C186.82 204.75 188.92 208.72 190.20 211.70 C191.48 214.68 192.17 216.05 192.80 219.40 C193.43 222.75 193.82 227.03 194.00 231.80 C194.18 236.57 193.92 243.28 193.90 248.00 C193.88 252.72 193.70 256.47 193.90 260.10 C194.10 263.73 194.50 267.47 195.10 269.80 C195.70 272.13 196.58 273.70 197.50 274.10 C198.42 274.50 199.78 273.52 200.60 272.20 C201.42 270.88 201.80 269.02 202.40 266.20 C203.00 263.38 203.62 258.33 204.20 255.30 C204.78 252.27 205.23 250.98 205.90 248.00 C206.57 245.02 207.63 241.03 208.20 237.40 C208.77 233.77 209.20 229.20 209.30 226.20 C209.40 223.20 209.10 222.23 208.80 219.40 C208.50 216.57 208.47 212.40 207.50 209.20 C206.53 206.00 204.38 203.23 203.00 200.20 C201.62 197.17 200.27 193.92 199.20 191.00 C198.13 188.08 196.92 186.00 196.60 182.70 C196.28 179.40 196.87 175.03 197.30 171.20 C197.73 167.37 198.63 162.82 199.20 159.70 C199.77 156.58 200.35 154.58 200.70 152.50 C201.05 150.42 201.15 149.35 201.30 147.20 C201.45 145.05 201.77 141.73 201.60 139.60 C201.43 137.47 200.68 136.25 200.30 134.40 C199.92 132.55 199.38 130.10 199.30 128.50 C199.22 126.90 199.43 125.78 199.80 124.80 C200.17 123.82 200.63 123.08 201.50 122.60 C202.37 122.12 200.25 122.08 205.00 121.90 C209.75 121.72 208.50 121.63 230.00 121.50 C251.50 121.37 316.67 121.17 334.00 121.10" stroke="#111111" stroke-width="1.4"/>
<path d="M40.00 121.50 C53.33 121.40 99.50 120.93 120.00 120.90 C140.50 120.87 154.92 121.12 163.00 121.30 C171.08 121.48 167.08 121.47 168.50 122.00 C169.92 122.53 170.65 123.33 171.50 124.50 C172.35 125.67 173.05 126.92 173.60 129.00 C174.15 131.08 174.52 133.55 174.80 137.00 C175.08 140.45 175.02 145.95 175.30 149.70 C175.58 153.45 176.02 155.95 176.50 159.50 C176.98 163.05 177.83 167.08 178.20 171.00 C178.57 174.92 178.63 179.03 178.70 183.00 C178.77 186.97 178.82 191.57 178.60 194.80 C178.38 198.03 177.97 200.07 177.40 202.40 C176.83 204.73 175.63 205.53 175.20 208.80 C174.77 212.07 175.32 216.90 174.80 222.00 C174.28 227.10 173.43 234.00 172.10 239.40 C170.77 244.80 168.15 249.75 166.80 254.40 C165.45 259.05 164.18 263.55 164.00 267.30 C163.82 271.05 164.52 274.58 165.70 276.90 C166.88 279.22 168.95 281.02 171.10 281.20 C173.25 281.38 176.52 280.30 178.60 278.00 C180.68 275.70 182.47 270.78 183.60 267.40 C184.73 264.02 184.80 260.93 185.40 257.70 C186.00 254.47 186.67 251.38 187.20 248.00 C187.73 244.62 188.00 241.03 188.60 237.40 C189.20 233.77 190.23 229.93 190.80 226.20 C191.37 222.47 191.88 218.87 192.00 215.00 C192.12 211.13 191.58 206.83 191.50 203.00 C191.42 199.17 191.28 195.38 191.50 192.00 C191.72 188.62 192.17 186.17 192.80 182.70 C193.43 179.23 194.68 174.98 195.30 171.20 C195.92 167.42 196.52 162.87 196.50 160.00 C196.48 157.13 195.58 156.77 195.20 154.00 C194.82 151.23 194.43 146.58 194.20 143.40 C193.97 140.22 193.80 137.35 193.80 134.90 C193.80 132.45 193.92 130.42 194.20 128.70 C194.48 126.98 194.82 125.65 195.50 124.60 C196.18 123.55 197.05 122.85 198.30 122.40 C199.55 121.95 197.72 122.03 203.00 121.90 C208.28 121.77 208.17 121.77 230.00 121.60 C251.83 121.43 316.67 121.02 334.00 120.90" stroke="#ec1c24" stroke-width="1.4"/>
</g>
<rect x="40.00" y="3.80" width="293.90" height="294.00" fill="none" stroke="#4a4a4a" stroke-width="1.5"/>
<path d="M76.74 297.80V294.20 M76.74 3.80V7.40 M40.00 261.05H43.60 M333.90 261.05H330.30 M113.47 297.80V294.20 M113.47 3.80V7.40 M40.00 224.30H43.60 M333.90 224.30H330.30 M150.21 297.80V294.20 M150.21 3.80V7.40 M40.00 187.55H43.60 M333.90 187.55H330.30 M186.95 297.80V294.20 M186.95 3.80V7.40 M40.00 150.80H43.60 M333.90 150.80H330.30 M223.69 297.80V294.20 M223.69 3.80V7.40 M40.00 114.05H43.60 M333.90 114.05H330.30 M260.42 297.80V294.20 M260.42 3.80V7.40 M40.00 77.30H43.60 M333.90 77.30H330.30 M297.16 297.80V294.20 M297.16 3.80V7.40 M40.00 40.55H43.60 M333.90 40.55H330.30" stroke="#333" stroke-width="1.4" fill="none"/>
<path d="M257.60 98.10 L239.86 84.81" stroke="#111" stroke-width="1.6" fill="none"/><path d="M230.10 77.50 L243.70 82.69 L239.86 84.81 L238.91 89.09 Z" fill="#111"/>
<path d="M239.10 206.00 L221.80 192.80" stroke="#111" stroke-width="1.6" fill="none"/><path d="M212.10 185.40 L225.66 190.71 L221.80 192.80 L220.80 197.07 Z" fill="#111"/>
<text x="45.5" y="114">Loose layer</text>
<text x="45.5" y="288.7">Cohesive layer</text>
<text x="260.3" y="111.3">Grooves</text>
<text x="242.3" y="219.6">Fractures</text>
<text x="38.3" y="43.6" text-anchor="end">140 m</text>
<text x="38.6" y="117.6" text-anchor="end">100 m</text>
<text x="38.2" y="300.8" text-anchor="end">0 m</text>
<text x="40" y="311" text-anchor="middle">-80 m</text>
<text x="186.9" y="310.7" text-anchor="middle">0 m</text>
<text x="333.1" y="310.7" text-anchor="middle">80 m</text>
</svg></body></html>
